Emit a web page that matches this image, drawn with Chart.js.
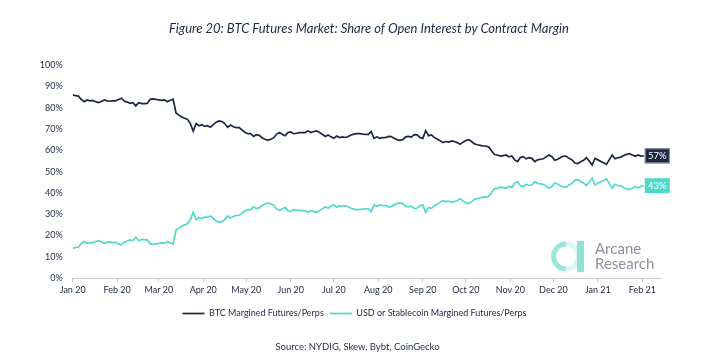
<!DOCTYPE html>
<html>
<head>
<meta charset="utf-8">
<script src="https://cdn.jsdelivr.net/npm/chart.js@4.4.1/dist/chart.umd.min.js"></script>
<style>
  html, body { margin: 0; padding: 0; background: #ffffff; }
  #wrap { position: relative; width: 703px; height: 355px; overflow: hidden; }
  #title { position: absolute; left: 0; width: 738px; top: 20px; text-align: center;
           font-family: Lato, "Open Sans", sans-serif; font-style: italic; font-size: 13px; color: #1b2a44; }
  #source { position: absolute; left: 0; width: 715px; top: 341px; text-align: center;
           font-family: Lato, "Open Sans", sans-serif; font-size: 9.5px; color: #1b2a44; }
  canvas { position: absolute; left: 0; top: 0; }
</style>
</head>
<body>
<div id="wrap">
  <canvas id="c" width="703" height="355"></canvas>
  <div id="title">Figure 20: BTC Futures Market: Share of Open Interest by Contract Margin</div>
  <div id="source">Source: NYDIG, Skew, Bybt, CoinGecko</div>
</div>
<script>
// ---- data (one value every 2 days, starting 1 Jan 2020) ----
const stepDays = 2;
const seriesNames = ['BTC Margined Futures/Perps', 'USD or Stablecoin Margined Futures/Perps'];
const btcShare = [
  86.0, 85.6, 85.4, 83.8, 82.8, 83.6, 83.2, 83.4, 82.8, 82.4,
  82.9, 83.6, 83.2, 83.0, 83.3, 83.2, 83.8, 84.4, 83.0, 82.6,
  82.0, 82.3, 80.8, 82.3, 81.9, 81.9, 82.0, 83.9, 84.1, 83.9,
  83.6, 83.4, 83.6, 82.8, 83.5, 84.0, 77.5, 76.5, 75.6, 75.0,
  74.5, 72.5, 69.0, 72.5, 71.5, 72.0, 71.2, 71.5, 70.8, 72.0,
  73.2, 73.8, 73.5, 72.5, 70.8, 71.8, 71.0, 70.6, 70.6, 69.5,
  68.5, 67.8, 67.8, 66.5, 67.3, 67.0, 65.9, 65.2, 64.7, 65.2,
  65.8, 67.5, 68.3, 67.5, 66.8, 68.3, 68.6, 67.8, 68.0, 68.3,
  68.3, 68.3, 69.1, 68.3, 68.8, 69.1, 68.3, 67.5, 66.5, 67.2,
  66.3, 65.6, 66.7, 66.0, 66.3, 66.0, 66.5, 67.2, 67.6, 67.8,
  67.8, 67.6, 67.5, 67.5, 68.8, 65.6, 66.3, 65.6, 66.0, 65.9,
  66.5, 66.4, 65.6, 65.0, 64.7, 65.0, 66.3, 66.5, 66.2, 67.3,
  67.2, 66.0, 65.6, 69.2, 66.8, 67.2, 66.0, 65.3, 64.5, 63.6,
  64.1, 63.8, 64.4, 64.1, 63.6, 62.8, 63.8, 64.6, 65.0, 64.1,
  63.0, 62.6, 62.3, 62.0, 62.0, 61.5, 59.7, 58.0, 57.8, 57.3,
  57.5, 57.8, 56.9, 57.3, 55.5, 54.7, 56.6, 57.0, 56.0, 56.5,
  56.2, 54.7, 55.5, 55.8, 56.0, 57.0, 57.8, 57.0, 55.3, 55.8,
  56.6, 57.3, 57.2, 56.2, 55.5, 54.0, 53.8, 54.6, 55.3, 56.5,
  55.0, 53.1, 56.2, 55.5, 54.8, 54.2, 53.4, 55.6, 57.8, 56.0,
  56.5, 56.8, 57.6, 58.1, 58.4, 57.8, 57.2, 57.8, 57.3, 57.4
];
const usdShare = [
  14.0, 14.4, 14.6, 16.2, 17.2, 16.4, 16.8, 16.6, 17.2, 17.6,
  17.1, 16.4, 16.8, 17.0, 16.7, 16.8, 16.2, 15.6, 17.0, 17.4,
  18.0, 17.7, 19.2, 17.7, 18.1, 18.1, 18.0, 16.1, 15.9, 16.1,
  16.4, 16.6, 16.4, 17.2, 16.5, 16.0, 22.5, 23.5, 24.4, 25.0,
  25.5, 27.5, 31.0, 27.5, 28.5, 28.0, 28.8, 28.5, 29.2, 28.0,
  26.8, 26.2, 26.5, 27.5, 29.2, 28.2, 29.0, 29.4, 29.4, 30.5,
  31.5, 32.2, 32.2, 33.5, 32.7, 33.0, 34.1, 34.8, 35.3, 34.8,
  34.2, 32.5, 31.7, 32.5, 33.2, 31.7, 31.4, 32.2, 32.0, 31.7,
  31.7, 31.7, 30.9, 31.7, 31.2, 30.9, 31.7, 32.5, 33.5, 32.8,
  33.7, 34.4, 33.3, 34.0, 33.7, 34.0, 33.5, 32.8, 32.4, 32.2,
  32.2, 32.4, 32.5, 32.5, 31.2, 34.4, 33.7, 34.4, 34.0, 34.1,
  33.5, 33.6, 34.4, 35.0, 35.3, 35.0, 33.7, 33.5, 33.8, 32.7,
  32.8, 34.0, 34.4, 30.8, 33.2, 32.8, 34.0, 34.7, 35.5, 36.4,
  35.9, 36.2, 35.6, 35.9, 36.4, 37.2, 36.2, 35.4, 35.0, 35.9,
  37.0, 37.4, 37.7, 38.0, 38.0, 38.5, 40.3, 42.0, 42.2, 42.7,
  42.5, 42.2, 43.1, 42.7, 44.5, 45.3, 43.4, 43.0, 44.0, 43.5,
  43.8, 45.3, 44.5, 44.2, 44.0, 43.0, 42.2, 43.0, 44.7, 44.2,
  43.4, 42.7, 42.8, 43.8, 44.5, 46.0, 46.2, 45.4, 44.7, 43.5,
  45.0, 46.9, 43.8, 44.5, 45.2, 45.8, 46.6, 44.4, 42.2, 44.0,
  43.5, 43.2, 42.4, 41.9, 41.6, 42.2, 42.8, 42.4, 43.0, 43.4
];
const monthTickDays = [0, 31, 60, 91, 121, 152, 182, 213, 244, 274, 305, 335, 366, 397];
const monthTickLabels = ['Jan 20','Feb 20','Mar 20','Apr 20','May 20','Jun 20','Jul 20','Aug 20','Sep 20','Oct 20','Nov 20','Dec 20','Jan 21','Feb 21'];

const NAVY = '#1c2741';
const TEAL = '#52d9ca';
const FONT = 'Lato, "Open Sans", sans-serif';

const toPoints = arr => arr.map((v, i) => ({ x: i * stepDays, y: v }));

const endLabels = {
  id: 'endLabels',
  afterDatasetsDraw(chart) {
    const ctx = chart.ctx;
    chart.data.datasets.forEach((ds, di) => {
      const meta = chart.getDatasetMeta(di);
      const pt = meta.data[meta.data.length - 1];
      const val = ds.data[ds.data.length - 1].y;
      const x = pt.x + 1, y = pt.y;
      ctx.save();
      ctx.fillStyle = ds.borderColor;
      ctx.fillRect(x, y - 7.5, 25, 15);
      if (di === 0) { ctx.strokeStyle = '#8d95a6'; ctx.lineWidth = 1; ctx.strokeRect(x + 0.5, y - 7, 24, 14); }
      ctx.fillStyle = '#ffffff';
      ctx.font = '9.5px ' + FONT;
      ctx.textAlign = 'center';
      ctx.textBaseline = 'middle';
      ctx.fillText(Math.round(val) + '%', x + 12.5, y + 0.5);
      ctx.restore();
    });
  }
};

// shift the legend row so that it is centred like the reference
const legendShift = {
  id: 'legendShift',
  afterLayout(chart) {
    if (chart.legend) { chart.legend.left += 24; chart.legend.right += 24; }
  }
};

const watermark = {
  id: 'watermark',
  afterDraw(chart) {
    const ctx = chart.ctx;
    ctx.save();
    ctx.lineWidth = 5;
    ctx.strokeStyle = '#9be6dc';
    ctx.beginPath(); ctx.arc(566, 256.5, 12.5, Math.PI * 0.5, Math.PI * 1.5); ctx.stroke();
    ctx.strokeStyle = '#d9f6f2';
    ctx.beginPath(); ctx.arc(566, 256.5, 12.5, Math.PI * 1.5, Math.PI * 2.5); ctx.stroke();
    ctx.fillStyle = '#8fe3d8';
    ctx.fillRect(577, 241, 7, 31);
    ctx.fillStyle = '#8c929e';
    ctx.font = '15px ' + FONT;
    ctx.textBaseline = 'alphabetic';
    ctx.fillText('Arcane', 595, 254);
    ctx.fillText('Research', 595, 269);
    ctx.restore();
  }
};

new Chart(document.getElementById('c'), {
  type: 'line',
  data: {
    datasets: [
      { label: seriesNames[0], data: toPoints(btcShare), borderColor: NAVY, backgroundColor: NAVY,
        borderWidth: 1.7, pointRadius: 0, tension: 0, pointStyle: 'line' },
      { label: seriesNames[1], data: toPoints(usdShare), borderColor: TEAL, backgroundColor: TEAL,
        borderWidth: 1.7, pointRadius: 0, tension: 0, pointStyle: 'line' }
    ]
  },
  options: {
    responsive: false,
    animation: false,
    layout: { padding: { left: 0, right: 42, top: 65, bottom: 27 } },
    scales: {
      x: {
        type: 'linear', min: 0, max: 410,
        afterBuildTicks: s => { s.ticks = monthTickDays.map(v => ({ value: v })); },
        afterFit: s => { s.height += 6; },
        ticks: { autoSkip: false, maxRotation: 0, padding: 2, color: NAVY,
                 font: { family: FONT, size: 9 },
                 callback: (v, i) => monthTickLabels[i] },
        grid: { display: true, drawOnChartArea: false, drawTicks: true, tickLength: 4, color: '#c9c9c9' },
        border: { display: true, color: '#c9c9c9' }
      },
      y: {
        min: 0, max: 100,
        afterFit: s => { s.width = 72.7; },
        ticks: { stepSize: 10, padding: 10, color: NAVY, font: { family: FONT, size: 9 },
                 callback: v => v + '%' },
        grid: { display: false, drawTicks: false },
        border: { display: false }
      }
    },
    plugins: {
      legend: {
        position: 'bottom',
        labels: { usePointStyle: true, pointStyleWidth: 22, boxHeight: 9, padding: 6,
                  color: NAVY, font: { family: FONT, size: 9 } }
      },
      tooltip: { enabled: false }
    }
  },
  plugins: [endLabels, legendShift, watermark]
});
</script>
</body>
</html>
